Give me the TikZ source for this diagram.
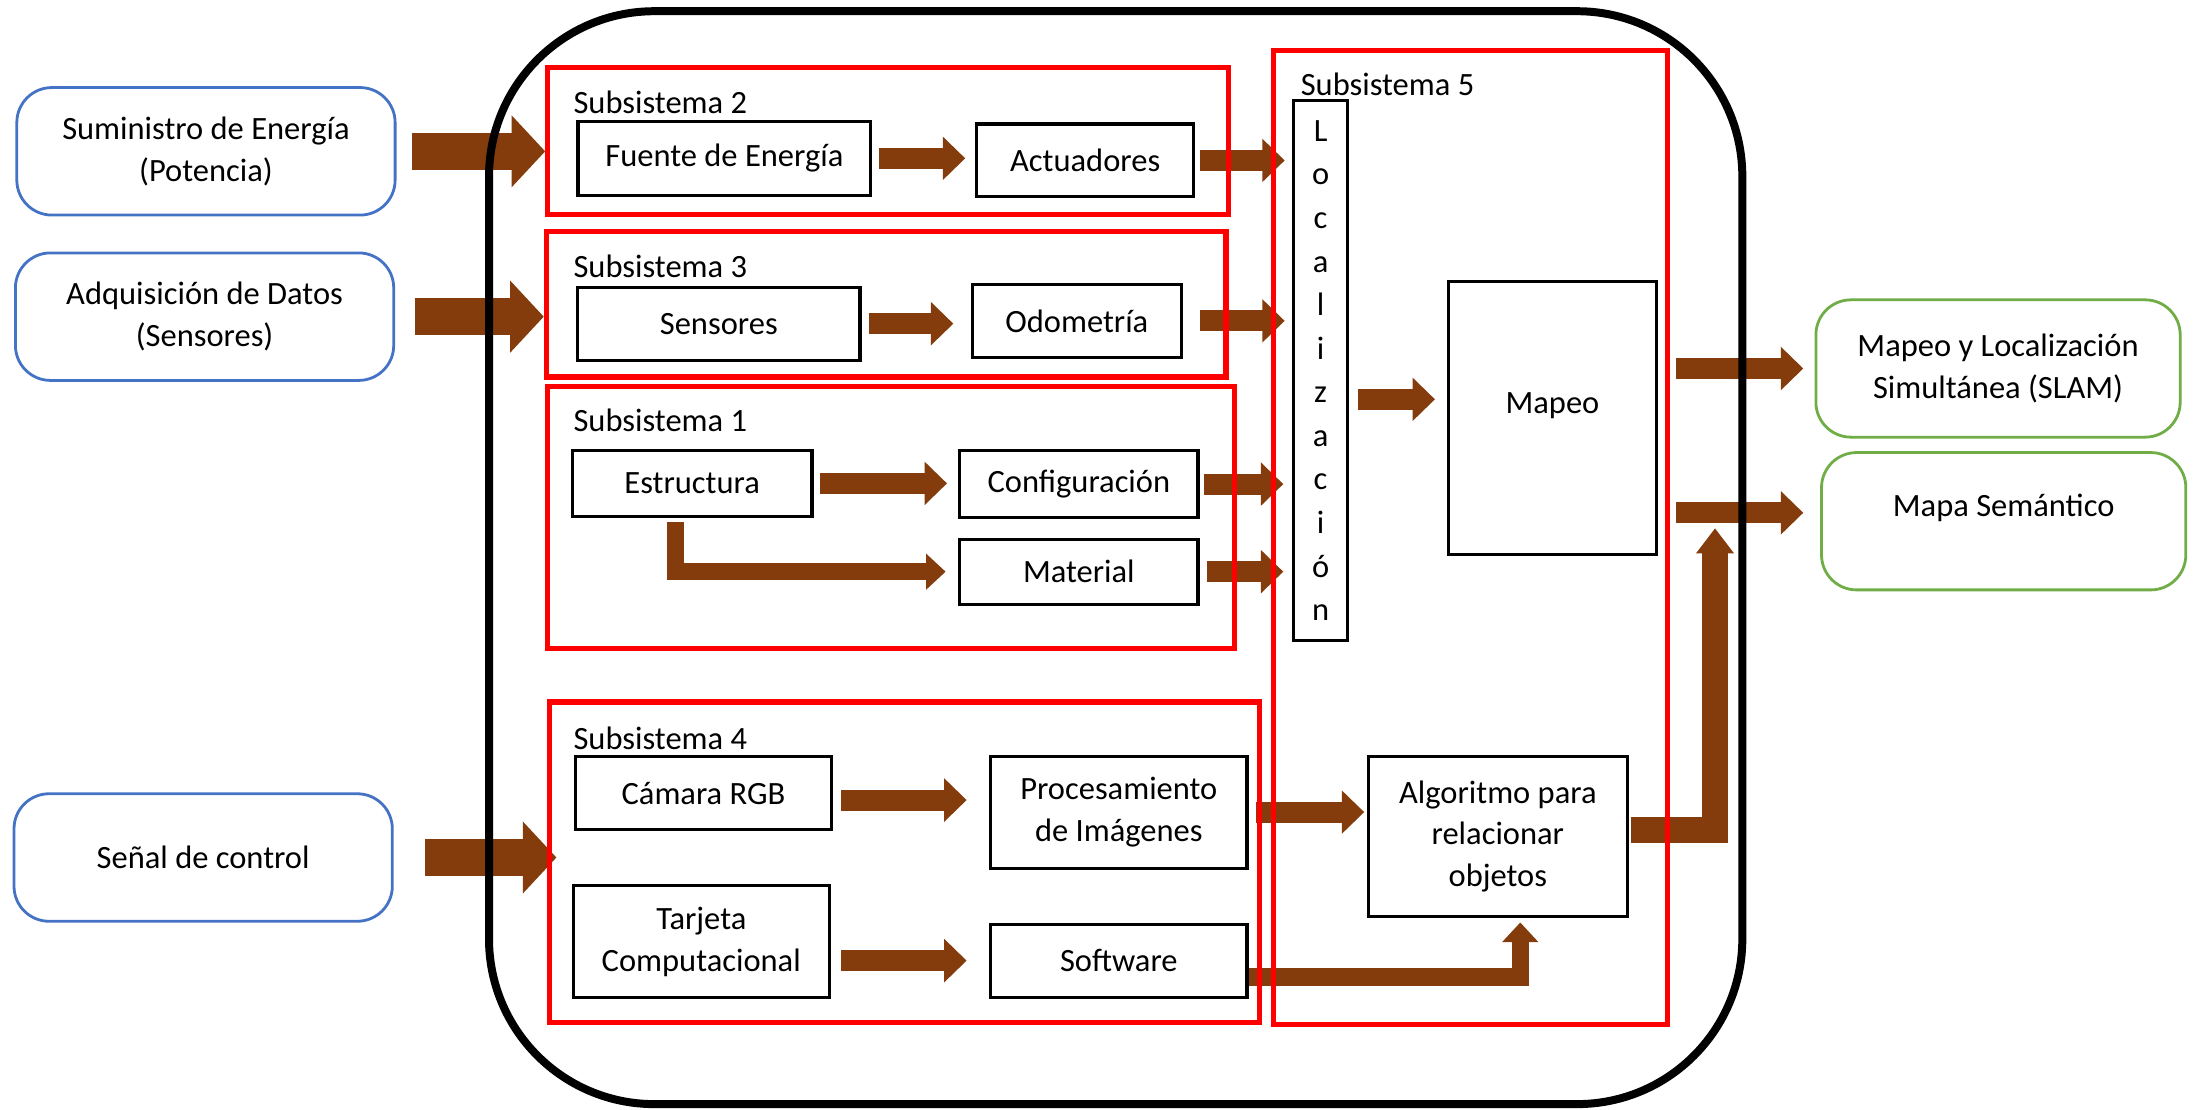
\documentclass[tikz,border=0pt]{standalone}
\usepackage{fontspec}
\setmainfont{Carlito}
\usepackage{tikz}
\usetikzlibrary{shapes,arrows.meta,backgrounds,positioning}

\definecolor{Brown}{HTML}{843C0C}
\definecolor{InBlue}{HTML}{4472C4}
\definecolor{OutGreen}{HTML}{70AD47}

\begin{document}
\begin{tikzpicture}[x=0.2mm, y=-0.2mm]
				\tikzstyle{every node}	= [font=\fontsize{13.2}{17}\selectfont]
				\tikzstyle{Box} 	= [draw, rectangle, align=center, inner sep=0pt, line width=0.44mm]
				\tikzstyle{Input}	= [draw=InBlue, line width=0.4mm, rounded corners=5mm, minimum width=54mm, minimum height=18.2mm]
				\tikzstyle{Output}	= [draw=OutGreen, line width=0.4mm, rounded corners=5mm, minimum width=52mm, minimum height=19.6mm]
				\tikzstyle{Sub}		= [draw=red, rectangle, line width=0.75mm, inner sep=0pt]
				\tikzstyle{SubLabel}	= [anchor=west, inner sep=0pt]
				\tikzstyle{Frame}	= [line width=1.14mm, rounded corners=23.6mm]
				\tikzstyle{Flow}	= [draw=Brown, line width=3mm, -{Triangle[length=3.2mm, width=6mm]}]
				\tikzstyle{Big}		= [draw=Brown, line width=5.2mm, -{Triangle[length=4.8mm, width=10mm]}]
				\tikzstyle{Elbow}	= [draw=Brown, line width=2.5mm, -{Triangle[length=2.8mm, width=5mm]}]
				\tikzstyle{Up}		= [draw=Brown, line width=3.7mm, -{Triangle[length=3.6mm, width=5.2mm]}]

				\useasboundingbox (0,0) rectangle (1568,792);

				\node (sum) at (147,108) [Box][Input] {Suministro de Energía\\(Potencia)};
				\node (adq) at (146,226) [Box][Input] {Adquisición de Datos\\(Sensores)};
				\node (senal) at (145,612) [Box][Input] {Señal de control};

				\node (slam) at (1426,263) [Box][Output] {Mapeo y Localización\\Simultánea (SLAM)};
				\node (mapa) at (1430,372) [Box][Output][text depth=4.7mm] {Mapa Semántico};

				\node (sub2) at (634,100.5) [Sub, minimum width=97.2mm, minimum height=21mm] {};
				\node (sub3) at (632.5,217) [Sub, minimum width=97mm, minimum height=20.8mm] {};
				\node (sub1) at (636,369.5) [Sub, minimum width=98mm, minimum height=37.4mm] {};
				\node (sub4) at (645.5,615.5) [Sub, minimum width=101.4mm, minimum height=45.8mm] {};
				\node (sub5) at (1049.5,383.5) [Sub, minimum width=56.2mm, minimum height=139mm] {};

				\node (lab2) at (409,73) [SubLabel] {Subsistema 2};
				\node (lab3) at (409,190) [SubLabel] {Subsistema 3};
				\node (lab1) at (409,300) [SubLabel] {Subsistema 1};
				\node (lab4) at (409,527) [SubLabel] {Subsistema 4};
				\node (lab5) at (928,60) [SubLabel] {Subsistema 5};

				\node (fuente) at (517,113) [Box, minimum width=41.8mm, minimum height=10.5mm] {Fuente de Energía};
				\node (act) at (774.5,114.5) [Box, minimum width=31mm, minimum height=10.4mm] {Actuadores};
				\node (sens) at (513,231) [Box, minimum width=40.3mm, minimum height=10.4mm] {Sensores};
				\node (odo) at (768.5,229) [Box, minimum width=29.8mm, minimum height=10.5mm] {Odometría};
				\node (estr) at (494,345) [Box, minimum width=34.2mm, minimum height=9.4mm] {Estructura};
				\node (conf) at (770,345.5) [Box, minimum width=34mm, minimum height=9.6mm] {Configuración};
				\node (mat) at (770,408) [Box, minimum width=34mm, minimum height=9.3mm] {Material};
				\node (loc) at (942.5,264.5) [Box, minimum width=7.8mm, minimum height=77mm, font=\fontsize{13.2}{17.7}\selectfont] {L\\o\\c\\a\\l\\i\\z\\a\\c\\i\\ó\\n};
				\node (mapeo) at (1108,298.5) [Box, minimum width=29.7mm, minimum height=39mm, text depth=4.3mm] {Mapeo};
				\node (cam) at (502,566) [Box, minimum width=36.5mm, minimum height=10.5mm] {Cámara RGB};
				\node (proc) at (798.5,579.6) [Box, minimum width=36.6mm, minimum height=16mm] {Procesamiento\\de Imágenes};
				\node (tarj) at (500.5,672) [Box, minimum width=36.6mm, minimum height=16mm] {Tarjeta\\Computacional};
				\node (soft) at (798.5,685.6) [Box, minimum width=36.6mm, minimum height=10.4mm] {Software};
				\node (alg) at (1069,597) [Box, minimum width=36.9mm, minimum height=22.9mm] {Algoritmo para\\relacionar\\objetos};

				\coordinate (mapin) at ([yshift=2.7mm]mapeo.west);
				\coordinate (semin) at ([yshift=1.2mm]mapa.west);
				\coordinate (semtip) at (1224,377);

				\begin{scope}[on background layer]
				\draw [Big, shorten <=2.2mm] (sum.east) -- (sum.east -| sub2.west);
				\draw [Big, shorten <=2.8mm] (adq.east) -- (adq.east -| sub3.west);
				\draw [Big, shorten <=4.5mm, shorten >=2.5mm] (senal.east) -- (senal.east -| cam.west);

				\draw [Flow, shorten <=0.9mm, shorten >=1.4mm] (fuente.east) -- (fuente.east -| act.west);
				\draw [Flow, shorten <=0.6mm, shorten >=1mm] (act.east) -- (act.east -| loc.west);
				\draw [Flow, shorten <=1mm, shorten >=2.5mm] (sens.east) -- (sens.east -| odo.west);
				\draw [Flow, shorten <=2.4mm, shorten >=1mm] (odo.east) -- (odo.east -| loc.west);
				\draw [Flow, shorten <=0.9mm, shorten >=1.6mm] (estr.east) -- (estr.east -| conf.west);
				\draw [Elbow, shorten <=0.6mm, shorten >=1.8mm] ([xshift=-2.4mm]estr.south) |- (mat.west);
				\draw [Flow, shorten <=0.6mm, shorten >=1.2mm] (conf.east) -- (conf.east -| loc.west);
				\draw [Flow, shorten <=1mm, shorten >=1.2mm] (mat.east) -- (mat.east -| loc.west);

				\draw [Flow, shorten <=1.2mm, shorten >=1.7mm] (loc.east |- mapin) -- (mapin);
				\draw [Flow, shorten <=2.6mm, shorten >=1.6mm] (mapeo.east |- slam.west) -- (slam.west);
				\draw [Flow, shorten <=2.6mm, shorten >=2.4mm] (mapeo.east |- semin) -- (semin);
				\draw [Up, shorten <=0.4mm] ([yshift=0.9mm]alg.east) -| (semtip);

				\draw [Flow, shorten <=1.2mm, shorten >=3.2mm] ([yshift=-1mm]cam.east) -- ([yshift=-1mm]cam.east -| proc.west);
				\draw [Flow, shorten <=1mm, shorten >=0.4mm] (proc.east) -- (proc.east -| alg.west);
				\draw [Flow, shorten <=1.4mm, shorten >=3.2mm] (tarj.east |- soft.west) -- (soft.west);
				\draw [Elbow, shorten >=0.6mm] ([yshift=-2.3mm]soft.east) -| ([xshift=3.2mm]alg.south);
				\end{scope}

				\draw [Frame] (349,8) rectangle (1243.5,788);
			\end{tikzpicture}
\end{document}
